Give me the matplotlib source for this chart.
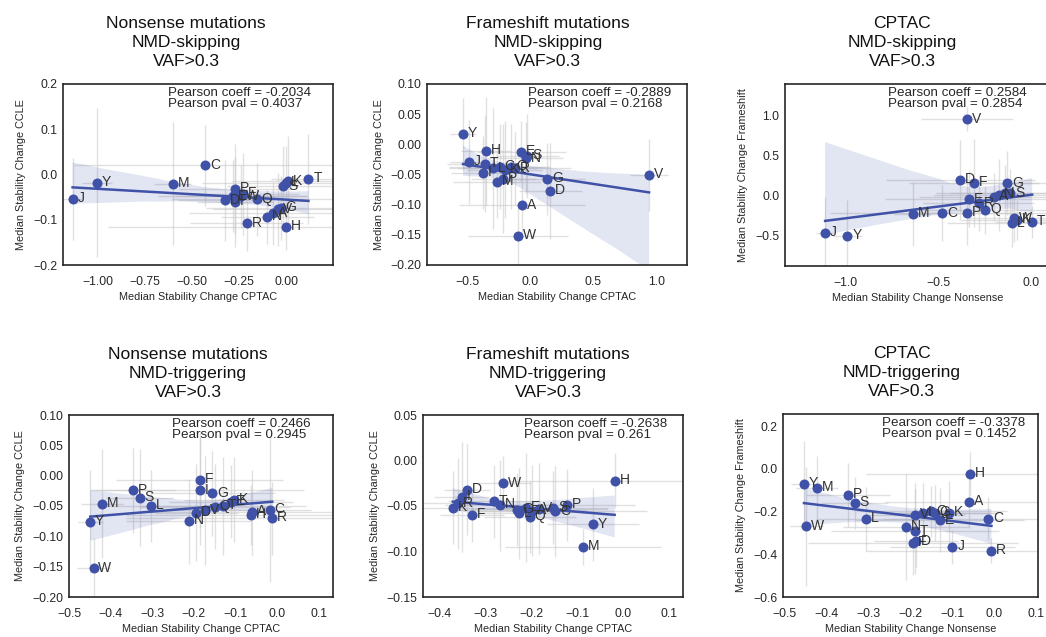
import matplotlib.pyplot as plt
import numpy as np
import seaborn as sns

plt.rcParams["font.family"] = ["Liberation Sans", "DejaVu Sans"]

# ---- Nonsense, NMD-skipping (CPTAC vs CCLE) ----
ns_skip_labels = ["J", "Y", "M", "C", "P", "D", "E", "I", "W", "F", "Q", "R",
                  "N", "A", "V", "G", "H", "S", "L", "K", "T"]
ns_skip_cptac = [-1.137, -1.009, -0.604, -0.430, -0.272, -0.325, -0.281, -0.272,
                 -0.242, -0.231, -0.156, -0.210, -0.099, -0.067, -0.041, -0.028,
                 0.000, -0.014, 0.000, 0.012, 0.119]
ns_skip_ccle = [-0.054, -0.018, -0.020, 0.020, -0.032, -0.057, -0.048, -0.061,
                -0.048, -0.043, -0.055, -0.108, -0.094, -0.086, -0.077, -0.074,
                -0.116, -0.026, -0.018, -0.015, -0.010]
ns_skip_xerr = [0.05, 0.08, 0.10, 0.70, 0.30, 0.25, 0.40, 0.20, 0.35, 0.30, 0.45,
                0.30, 0.25, 0.45, 0.35, 0.40, 0.95, 0.30, 0.45, 0.30, 0.20]
ns_skip_yerr = [0.09, 0.165, 0.135, 0.09, 0.10, 0.09, 0.08, 0.10, 0.07, 0.09, 0.08,
                0.06, 0.06, 0.07, 0.08, 0.07, 0.05, 0.09, 0.08, 0.10, 0.10]

# ---- Frameshift, NMD-skipping (CPTAC vs CCLE) ----
fs_skip_labels = ["Y", "H", "J", "T", "I", "L", "C", "K", "M", "P", "Q", "R",
                  "E", "N", "S", "G", "D", "A", "W", "V"]
fs_skip_cptac = [-0.534, -0.354, -0.487, -0.362, -0.376, -0.296, -0.243, -0.204,
                 -0.262, -0.217, -0.151, -0.124, -0.071, -0.037, -0.026, 0.132,
                 0.159, -0.063, -0.098, 0.942]
fs_skip_ccle = [0.017, -0.011, -0.029, -0.032, -0.047, -0.040, -0.037, -0.042,
                -0.062, -0.057, -0.037, -0.040, -0.012, -0.023, -0.019, -0.057,
                -0.077, -0.101, -0.152, -0.051]
fs_skip_xerr = [0.10, 0.20, 0.15, 0.30, 0.25, 0.35, 0.40, 0.30, 0.35, 0.25, 0.30,
                0.45, 0.35, 0.30, 0.25, 0.30, 0.25, 0.50, 0.40, 0.15]
fs_skip_yerr = [0.06, 0.09, 0.07, 0.08, 0.06, 0.10, 0.07, 0.08, 0.06, 0.09, 0.07,
                0.06, 0.05, 0.06, 0.07, 0.06, 0.08, 0.05, 0.05, 0.06]

# ---- CPTAC, NMD-skipping (Nonsense vs Frameshift) ----
cp_skip_labels = ["J", "Y", "M", "C", "V", "D", "F", "G", "E", "P", "Q", "R",
                  "A", "N", "I", "S", "K", "W", "L", "T"]
cp_skip_nons = [-1.111, -0.991, -0.640, -0.482, -0.347, -0.383, -0.311, -0.131,
                -0.338, -0.347, -0.248, -0.284, -0.203, -0.176, -0.140, -0.113,
                -0.077, -0.095, -0.104, 0.004]
cp_skip_fs = [-0.463, -0.500, -0.229, -0.221, 0.954, 0.196, 0.163, 0.154,
              -0.046, -0.213, -0.179, -0.096, -0.013, 0.008, 0.029, 0.029,
              -0.304, -0.283, -0.346, -0.325]
cp_skip_xerr = [0.05, 0.08, 0.10, 0.60, 0.25, 0.40, 0.35, 0.30, 0.45, 0.30, 0.35,
                0.30, 0.40, 0.35, 0.30, 0.40, 0.30, 0.25, 0.35, 0.20]
cp_skip_yerr = [0.45, 0.45, 0.40, 0.35, 0.15, 0.50, 0.55, 0.40, 0.35, 0.40, 0.30,
                0.35, 0.30, 0.45, 0.35, 0.30, 0.25, 0.30, 0.30, 0.20]

# ---- Nonsense, NMD-triggering (CPTAC vs CCLE) ----
ns_trig_labels = ["Y", "W", "M", "P", "S", "L", "F", "I", "G", "N", "D", "V",
                  "Q", "T", "E", "K", "H", "A", "C", "R"]
ns_trig_cptac = [-0.449, -0.441, -0.420, -0.346, -0.330, -0.302, -0.186, -0.186,
                 -0.156, -0.212, -0.194, -0.174, -0.150, -0.131, -0.111, -0.103,
                 -0.062, -0.060, -0.018, -0.012]
ns_trig_ccle = [-0.076, -0.153, -0.046, -0.024, -0.036, -0.050, -0.007, -0.024,
                -0.029, -0.075, -0.061, -0.057, -0.051, -0.050, -0.043, -0.040,
                -0.065, -0.060, -0.056, -0.070]
ns_trig_xerr = [0.03, 0.04, 0.05, 0.10, 0.08, 0.12, 0.20, 0.25, 0.15, 0.15, 0.10,
                0.12, 0.18, 0.20, 0.15, 0.12, 0.30, 0.25, 0.10, 0.35]
ns_trig_yerr = [0.085, 0.05, 0.09, 0.07, 0.08, 0.06, 0.08, 0.09, 0.07, 0.07, 0.08,
                0.09, 0.07, 0.08, 0.06, 0.07, 0.05, 0.07, 0.12, 0.06]

# ---- Frameshift, NMD-triggering (CPTAC vs CCLE) ----
fs_trig_labels = ["K", "R", "I", "D", "F", "W", "T", "N", "G", "L", "E", "A",
                  "Q", "V", "S", "C", "P", "Y", "H", "M"]
fs_trig_cptac = [-0.371, -0.359, -0.351, -0.340, -0.330, -0.261, -0.281, -0.268,
                 -0.230, -0.226, -0.211, -0.199, -0.203, -0.184, -0.152, -0.148,
                 -0.123, -0.065, -0.018, -0.087]
fs_trig_ccle = [-0.052, -0.047, -0.040, -0.032, -0.060, -0.025, -0.045, -0.049,
                -0.054, -0.058, -0.052, -0.055, -0.062, -0.053, -0.052, -0.056,
                -0.049, -0.070, -0.022, -0.095]
fs_trig_xerr = [0.08, 0.10, 0.06, 0.05, 0.07, 0.06, 0.10, 0.12, 0.15, 0.10, 0.08,
                0.12, 0.10, 0.15, 0.12, 0.20, 0.15, 0.10, 0.25, 0.17]
fs_trig_yerr = [0.04, 0.05, 0.06, 0.05, 0.03, 0.03, 0.04, 0.05, 0.04, 0.05, 0.06,
                0.05, 0.04, 0.05, 0.04, 0.05, 0.04, 0.04, 0.03, 0.02]

# ---- CPTAC, NMD-triggering (Nonsense vs Frameshift) ----
cp_trig_labels = ["Y", "M", "W", "P", "S", "L", "N", "T", "F", "D", "V", "I",
                  "Q", "G", "E", "K", "J", "H", "A", "C", "R"]
cp_trig_nons = [-0.454, -0.424, -0.448, -0.349, -0.333, -0.305, -0.211, -0.190,
                -0.194, -0.186, -0.190, -0.170, -0.150, -0.142, -0.130, -0.108,
                -0.100, -0.057, -0.060, -0.015, -0.007]
cp_trig_fs = [-0.070, -0.090, -0.269, -0.121, -0.160, -0.235, -0.272, -0.293,
              -0.347, -0.339, -0.215, -0.207, -0.199, -0.207, -0.241, -0.207,
              -0.366, -0.023, -0.156, -0.233, -0.383]
cp_trig_xerr = [0.03, 0.05, 0.04, 0.10, 0.08, 0.12, 0.15, 0.20, 0.25, 0.10, 0.12,
                0.10, 0.18, 0.15, 0.20, 0.12, 0.15, 0.25, 0.20, 0.25, 0.30]
cp_trig_yerr = [0.20, 0.15, 0.28, 0.15, 0.12, 0.15, 0.25, 0.20, 0.15, 0.12, 0.15,
                0.14, 0.12, 0.13, 0.15, 0.15, 0.08, 0.10, 0.12, 0.10, 0.06]

titles = ["Nonsense mutations\nNMD-skipping\nVAF>0.3",
          "Frameshift mutations\nNMD-skipping\nVAF>0.3",
          "CPTAC\nNMD-skipping\nVAF>0.3",
          "Nonsense mutations\nNMD-triggering\nVAF>0.3",
          "Frameshift mutations\nNMD-triggering\nVAF>0.3",
          "CPTAC\nNMD-triggering\nVAF>0.3"]
pearson_coeff = ["-0.2034", "-0.2889", "0.2584", "0.2466", "-0.2638", "-0.3378"]
pearson_pval = ["0.4037", "0.2168", "0.2854", "0.2945", "0.261", "0.1452"]

BLUE = "#4052a8"
W, H = 1046, 637


def px_axes(fig, left, top, right, bottom):
    return fig.add_axes([left / W, 1 - bottom / H, (right - left) / W, (bottom - top) / H])


def draw(ax, labels, x, y, xerr, yerr, k, xlabel, ylabel, xlim, ylim, xticks, yticks,
         title_x):
    x = np.array(x)
    y = np.array(y)
    ax.errorbar(x, y, xerr=xerr, yerr=yerr, fmt="none", ecolor="#c8c8c8",
                elinewidth=1, alpha=0.55, zorder=1)

    # regression line with bootstrapped 95% band, as seaborn draws it
    sns.regplot(x=x, y=y, ax=ax, scatter=False, color=BLUE, ci=95, seed=7,
                truncate=True, line_kws={"lw": 1.8, "zorder": 3})
    ax.scatter(x, y, s=52, color=BLUE, zorder=4, linewidths=0)

    for lab, xi, yi in zip(labels, x, y):
        ax.annotate(lab, (xi, yi), xytext=(3.5, 0.5), textcoords="offset points",
                    fontsize=10, color="#333333", va="center", ha="left", zorder=5)

    ax.text(0.39, 0.985, "Pearson coeff = %s\nPearson pval = %s"
            % (pearson_coeff[k], pearson_pval[k]),
            transform=ax.transAxes, va="top", ha="left", fontsize=9.6,
            linespacing=0.92, color="#262626")

    ax.set_xlim(xlim)
    ax.set_ylim(ylim)
    ax.set_xticks(xticks)
    ax.set_yticks(yticks)
    ax.tick_params(length=0, labelsize=8.8, labelcolor="#262626")
    ax.tick_params(axis="x", pad=8)
    ax.tick_params(axis="y", pad=4)
    ax.set_xlabel(xlabel, fontsize=7.8, color="#262626", labelpad=3)
    ax.set_ylabel(ylabel, fontsize=7.8, color="#262626", labelpad=5)
    ax.set_title(titles[k], fontsize=12.6, linespacing=1.32, pad=13, color="#111111",
                 x=title_x)
    for sp in ax.spines.values():
        sp.set_color("#262626")
        sp.set_linewidth(1.2)


fig = plt.figure(figsize=(W / 100, H / 100), dpi=100)

ax1 = px_axes(fig, 63, 84, 333, 265)
draw(ax1, ns_skip_labels, ns_skip_cptac, ns_skip_ccle, ns_skip_xerr, ns_skip_yerr, 0,
     "Median Stability Change CPTAC", "Median Stability Change CCLE",
     (-1.188, 0.25), (-0.2, 0.2), [-1.0, -0.75, -0.5, -0.25, 0.0],
     [-0.2, -0.1, 0.0, 0.1, 0.2], 0.456)

ax2 = px_axes(fig, 427, 84, 687, 265)
draw(ax2, fs_skip_labels, fs_skip_cptac, fs_skip_ccle, fs_skip_xerr, fs_skip_yerr, 1,
     "Median Stability Change CPTAC", "Median Stability Change CCLE",
     (-0.82, 1.243), (-0.2, 0.1), [-0.5, 0.0, 0.5, 1.0],
     [-0.2, -0.15, -0.1, -0.05, 0.0, 0.05, 0.1], 0.465)

ax3 = px_axes(fig, 785, 84, 1050, 266)
draw(ax3, cp_skip_labels, cp_skip_nons, cp_skip_fs, cp_skip_xerr, cp_skip_yerr, 2,
     "Median Stability Change Nonsense", "Median Stability Change Frameshift",
     (-1.327, 0.1), (-0.879, 1.396), [-1.0, -0.5, 0.0], [-0.5, 0.0, 0.5, 1.0], 0.443)

ax4 = px_axes(fig, 69, 415, 333, 597)
draw(ax4, ns_trig_labels, ns_trig_cptac, ns_trig_ccle, ns_trig_xerr, ns_trig_yerr, 3,
     "Median Stability Change CPTAC", "Median Stability Change CCLE",
     (-0.491, 0.134), (-0.2, 0.1), [-0.5, -0.4, -0.3, -0.2, -0.1, 0.0, 0.1],
     [-0.2, -0.15, -0.1, -0.05, 0.0, 0.05, 0.1], 0.451)

ax5 = px_axes(fig, 423, 415, 683, 597)
draw(ax5, fs_trig_labels, fs_trig_cptac, fs_trig_ccle, fs_trig_xerr, fs_trig_yerr, 4,
     "Median Stability Change CPTAC", "Median Stability Change CCLE",
     (-0.436, 0.131), (-0.15, 0.05), [-0.4, -0.3, -0.2, -0.1, 0.0, 0.1],
     [-0.15, -0.1, -0.05, 0.0, 0.05], 0.481)

ax6 = px_axes(fig, 783, 414, 1038, 597)
draw(ax6, cp_trig_labels, cp_trig_nons, cp_trig_fs, cp_trig_xerr, cp_trig_yerr, 5,
     "Median Stability Change Nonsense", "Median Stability Change Frameshift",
     (-0.504, 0.104), (-0.596, 0.257), [-0.5, -0.4, -0.3, -0.2, -0.1, 0.0, 0.1],
     [-0.6, -0.4, -0.2, 0.0, 0.2], 0.465)

fig.savefig("out.png", dpi=100, facecolor="white")
